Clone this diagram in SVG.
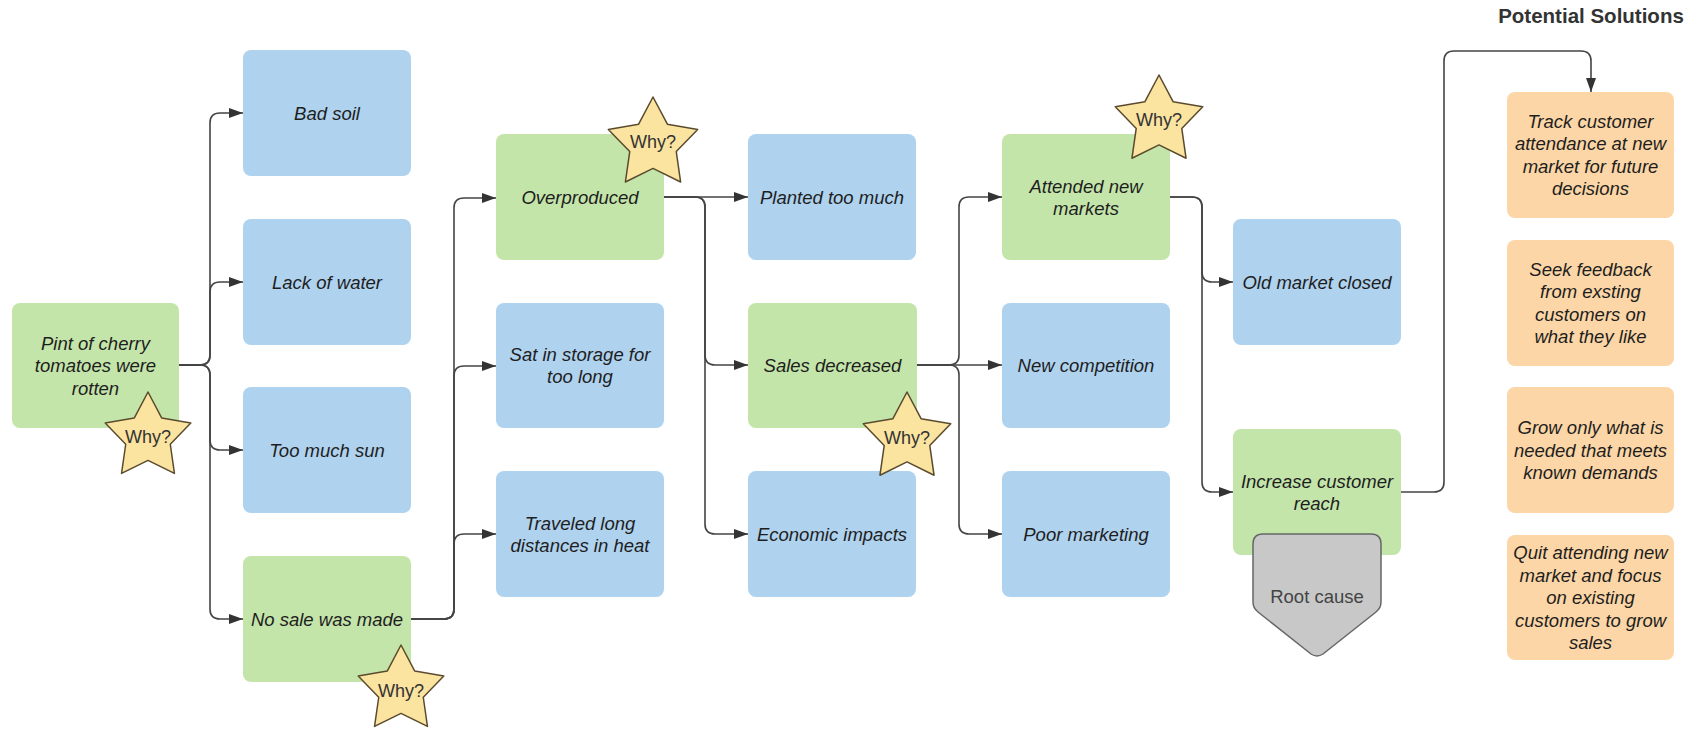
<svg xmlns="http://www.w3.org/2000/svg" width="1706" height="731" viewBox="0 0 1706 731">
  <defs>
    <style>
      .box { stroke: none; }
      .green { fill: #c4e5aa; }
      .blue { fill: #afd2ee; }
      .orange { fill: #fcd6a6; }
      .lbl { font-family: "Liberation Sans", Arial, sans-serif; font-size: 18.5px; font-style: italic; fill: #1e1e1e; text-anchor: middle; }
      .why { font-family: "Liberation Sans", Arial, sans-serif; font-size: 18px; fill: #333333; text-anchor: middle; }
      .star { fill: #fbe3a0; stroke: #5b4b2e; stroke-linejoin: round; }
      .conn { fill: none; stroke: #444444; stroke-width: 1.6; }
      .arrow { marker-end: url(#arrowhead); }
      .root { fill: #c8c8c8; stroke: #666666; stroke-width: 1.5; }
      .rootlbl { font-family: "Liberation Sans", Arial, sans-serif; font-size: 18.5px; fill: #444444; text-anchor: middle; }
      .title { font-family: "Liberation Sans", Arial, sans-serif; font-size: 20.5px; font-weight: bold; fill: #333333; text-anchor: middle; }
    </style>
    <marker id="arrowhead" markerUnits="userSpaceOnUse" markerWidth="14" markerHeight="10" refX="14" refY="5" orient="auto">
      <path d="M0,0 L14,5 L0,10 Z" fill="#333333"/>
    </marker>
    <!-- five-pointed star, outer radius 1, centred on origin -->
    <polygon id="starShape" points="0,-1 0.306,-0.421 0.951,-0.309 0.495,0.161 0.588,0.809 0,0.52 -0.588,0.809 -0.495,0.161 -0.951,-0.309 -0.306,-0.421"/>
  </defs>

  <rect width="1706" height="731" fill="#ffffff"/>

  <!-- connectors -->
  <g id="connectors">
    <!-- problem to first level causes -->
    <path class="conn arrow" d="M179,365 H200 Q210,365 210,355 V123 Q210,113 220,113 H243"/>
    <path class="conn arrow" d="M179,365 H200 Q210,365 210,355 V292 Q210,282 220,282 H243"/>
    <path class="conn arrow" d="M179,365 H200 Q210,365 210,375 V440 Q210,450 220,450 H243"/>
    <path class="conn arrow" d="M179,365 H200 Q210,365 210,375 V609 Q210,619 220,619 H243"/>
    <!-- no sale was made -->
    <path class="conn arrow" d="M411,619 H444 Q454,619 454,609 V208 Q454,198 464,198 H496"/>
    <path class="conn arrow" d="M411,619 H444 Q454,619 454,609 V376 Q454,366 464,366 H496"/>
    <path class="conn arrow" d="M411,619 H444 Q454,619 454,609 V544 Q454,534 464,534 H496"/>
    <!-- overproduced -->
    <path class="conn arrow" d="M664,197 H748"/>
    <path class="conn arrow" d="M664,197 H695 Q705,197 705,207 V355 Q705,365 715,365 H748"/>
    <path class="conn arrow" d="M664,197 H695 Q705,197 705,207 V524 Q705,534 715,534 H748"/>
    <!-- sales decreased -->
    <path class="conn arrow" d="M917,365 H949 Q959,365 959,355 V207 Q959,197 969,197 H1002"/>
    <path class="conn arrow" d="M917,365 H1002"/>
    <path class="conn arrow" d="M917,365 H949 Q959,365 959,375 V524 Q959,534 969,534 H1002"/>
    <!-- attended new markets -->
    <path class="conn arrow" d="M1170,197 H1192 Q1202,197 1202,207 V272 Q1202,282 1212,282 H1233"/>
    <path class="conn arrow" d="M1170,197 H1192 Q1202,197 1202,207 V482 Q1202,492 1212,492 H1233"/>
    <!-- root cause to solutions -->
    <path class="conn arrow" d="M1401,492 H1434 Q1444,492 1444,482 V61 Q1444,51 1454,51 H1581 Q1591,51 1591,61 V92"/>
  </g>

  <!-- problem statement -->
  <g id="node-problem">
    <rect class="box green" x="12" y="303" width="167" height="125" rx="8"/>
    <text class="lbl" x="95.5" y="349.5">Pint of cherry</text>
    <text class="lbl" x="95.5" y="372">tomatoes were</text>
    <text class="lbl" x="95.5" y="394.5">rotten</text>
  </g>

  <!-- first level -->
  <g id="node-bad-soil">
    <rect class="box blue" x="243" y="50" width="168" height="126" rx="8"/>
    <text class="lbl" x="327" y="119.5">Bad soil</text>
  </g>
  <g id="node-lack-water">
    <rect class="box blue" x="243" y="219" width="168" height="126" rx="8"/>
    <text class="lbl" x="327" y="288.5">Lack of water</text>
  </g>
  <g id="node-too-much-sun">
    <rect class="box blue" x="243" y="387" width="168" height="126" rx="8"/>
    <text class="lbl" x="327" y="456.5">Too much sun</text>
  </g>
  <g id="node-no-sale">
    <rect class="box green" x="243" y="556" width="168" height="126" rx="8"/>
    <text class="lbl" x="327" y="625.5">No sale was made</text>
  </g>

  <!-- second level -->
  <g id="node-overproduced">
    <rect class="box green" x="496" y="134" width="168" height="126" rx="8"/>
    <text class="lbl" x="580" y="203.5">Overproduced</text>
  </g>
  <g id="node-storage">
    <rect class="box blue" x="496" y="303" width="168" height="125" rx="8"/>
    <text class="lbl" x="580" y="360.5">Sat in storage for</text>
    <text class="lbl" x="580" y="383">too long</text>
  </g>
  <g id="node-traveled">
    <rect class="box blue" x="496" y="471" width="168" height="126" rx="8"/>
    <text class="lbl" x="580" y="529.5">Traveled long</text>
    <text class="lbl" x="580" y="552">distances in heat</text>
  </g>

  <!-- third level -->
  <g id="node-planted">
    <rect class="box blue" x="748" y="134" width="168" height="126" rx="8"/>
    <text class="lbl" x="832" y="203.5">Planted too much</text>
  </g>
  <g id="node-sales">
    <rect class="box green" x="748" y="303" width="169" height="125" rx="8"/>
    <text class="lbl" x="832.5" y="372">Sales decreased</text>
  </g>
  <g id="node-economic">
    <rect class="box blue" x="748" y="471" width="168" height="126" rx="8"/>
    <text class="lbl" x="832" y="540.5">Economic impacts</text>
  </g>

  <!-- fourth level -->
  <g id="node-attended">
    <rect class="box green" x="1002" y="134" width="168" height="126" rx="8"/>
    <text class="lbl" x="1086" y="192.5">Attended new</text>
    <text class="lbl" x="1086" y="215">markets</text>
  </g>
  <g id="node-competition">
    <rect class="box blue" x="1002" y="303" width="168" height="125" rx="8"/>
    <text class="lbl" x="1086" y="372">New competition</text>
  </g>
  <g id="node-marketing">
    <rect class="box blue" x="1002" y="471" width="168" height="126" rx="8"/>
    <text class="lbl" x="1086" y="540.5">Poor marketing</text>
  </g>

  <!-- fifth level -->
  <g id="node-old-market">
    <rect class="box blue" x="1233" y="219" width="168" height="126" rx="8"/>
    <text class="lbl" x="1317" y="288.5">Old market closed</text>
  </g>
  <g id="node-reach">
    <rect class="box green" x="1233" y="429" width="168" height="126" rx="8"/>
    <text class="lbl" x="1317" y="487.5">Increase customer</text>
    <text class="lbl" x="1317" y="510">reach</text>
  </g>
  <g id="node-root-cause">
    <path class="root" d="M1263,534 H1371 Q1381,534 1381,544 V602 Q1381,608 1376,612 L1323,654 Q1317,658 1311,654 L1258,612 Q1253,608 1253,602 V544 Q1253,534 1263,534 Z"/>
    <text class="rootlbl" x="1317" y="603">Root cause</text>
  </g>

  <!-- solutions -->
  <g id="node-solutions-title">
    <text class="title" x="1591" y="23">Potential Solutions</text>
  </g>
  <g id="node-track">
    <rect class="box orange" x="1507" y="92" width="167" height="126" rx="8"/>
    <text class="lbl" x="1590.5" y="127.5">Track customer</text>
    <text class="lbl" x="1590.5" y="150">attendance at new</text>
    <text class="lbl" x="1590.5" y="172.5">market for future</text>
    <text class="lbl" x="1590.5" y="195">decisions</text>
  </g>
  <g id="node-feedback">
    <rect class="box orange" x="1507" y="240" width="167" height="126" rx="8"/>
    <text class="lbl" x="1590.5" y="275.5">Seek feedback</text>
    <text class="lbl" x="1590.5" y="298">from exsting</text>
    <text class="lbl" x="1590.5" y="320.5">customers on</text>
    <text class="lbl" x="1590.5" y="343">what they like</text>
  </g>
  <g id="node-grow">
    <rect class="box orange" x="1507" y="387" width="167" height="126" rx="8"/>
    <text class="lbl" x="1590.5" y="434">Grow only what is</text>
    <text class="lbl" x="1590.5" y="456.5">needed that meets</text>
    <text class="lbl" x="1590.5" y="479">known demands</text>
  </g>
  <g id="node-quit">
    <rect class="box orange" x="1507" y="535" width="167" height="125" rx="8"/>
    <text class="lbl" x="1590.5" y="559">Quit attending new</text>
    <text class="lbl" x="1590.5" y="581.5">market and focus</text>
    <text class="lbl" x="1590.5" y="604">on existing</text>
    <text class="lbl" x="1590.5" y="626.5">customers to grow</text>
    <text class="lbl" x="1590.5" y="649">sales</text>
  </g>

  <!-- "Why?" stars -->
  <g id="star-problem">
    <use href="#starShape" class="star" transform="translate(148,437) scale(45)" style="stroke-width:0.033"/>
    <text class="why" x="148" y="443">Why?</text>
  </g>
  <g id="star-no-sale">
    <use href="#starShape" class="star" transform="translate(401,690) scale(45)" style="stroke-width:0.033"/>
    <text class="why" x="401" y="697">Why?</text>
  </g>
  <g id="star-overproduced">
    <use href="#starShape" class="star" transform="translate(653,144) scale(47)" style="stroke-width:0.032"/>
    <text class="why" x="653" y="148">Why?</text>
  </g>
  <g id="star-sales">
    <use href="#starShape" class="star" transform="translate(907,438) scale(46)" style="stroke-width:0.033"/>
    <text class="why" x="907" y="444">Why?</text>
  </g>
  <g id="star-attended">
    <use href="#starShape" class="star" transform="translate(1159,121) scale(46)" style="stroke-width:0.033"/>
    <text class="why" x="1159" y="126">Why?</text>
  </g>
</svg>
